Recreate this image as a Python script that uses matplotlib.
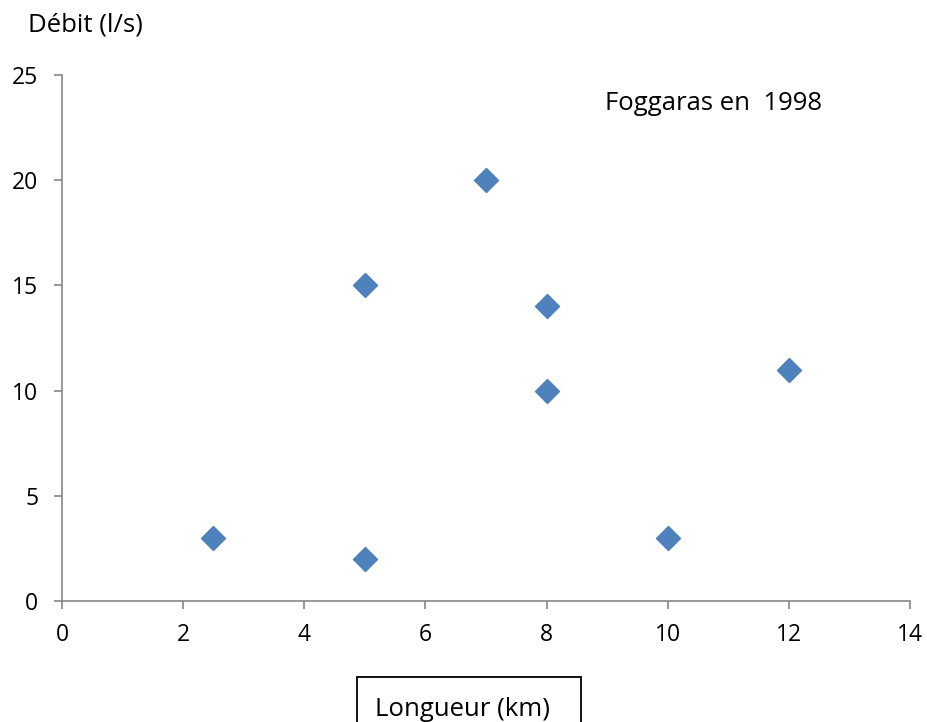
import numpy as np
import matplotlib
matplotlib.use('Agg')
import matplotlib.pyplot as plt
from matplotlib.patches import Rectangle

# Foggaras data (1998)
longueur = [2.5, 5, 5, 7, 8, 8, 10, 12]
debit = [3, 2, 15, 20, 14, 10, 3, 11]
xticks = [0, 2, 4, 6, 8, 10, 12, 14]
yticks = [0, 5, 10, 15, 20, 25]

plt.rcParams['font.family'] = ['Open Sans', 'DejaVu Sans']
axis_grey = '#868686'

fig = plt.figure(figsize=(9.28, 7.22), dpi=100)
ax = fig.add_axes([62/928, 1-601/722, (910-62)/928, (601-75)/722])

ax.scatter(longueur, debit, marker='D', s=150, color='#4F81BD', edgecolors='#4F81BD', zorder=3)

ax.set_xlim(0, 14)
ax.set_ylim(0, 25)
ax.set_xticks(xticks)
ax.set_yticks(yticks)
ax.tick_params(axis='both', direction='out', length=6, width=1.2, color=axis_grey,
               labelsize=16.5, labelcolor='black')
ax.tick_params(axis='y', pad=11)
ax.tick_params(axis='x', pad=10)
for side in ['top', 'right']:
    ax.spines[side].set_visible(False)
for side in ['left', 'bottom']:
    ax.spines[side].set_color(axis_grey)
    ax.spines[side].set_linewidth(1.2)

fig.text(605/928, 1-104/722, 'Foggaras en  1998', fontsize=18.5, va='center', ha='left')
fig.text(28/928, 1-25/722, 'Débit (l/s)', fontsize=18.5, va='center', ha='left')

# boxed x label at the bottom (cut by the figure edge)
fig.patches.append(Rectangle((357/928, -0.05), 224/928, 0.05 + 1-677/722,
                             transform=fig.transFigure, fill=False,
                             edgecolor='black', linewidth=1.3))
fig.text(463/928, 1-716/722, 'Longueur (km)', fontsize=18.5, va='baseline', ha='center')

plt.savefig('out.png', dpi=100)
